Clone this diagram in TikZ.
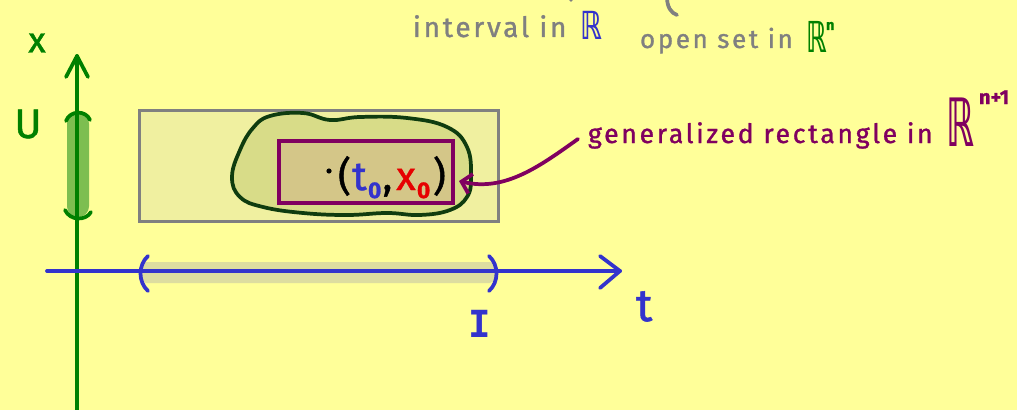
\documentclass[tikz,border=0pt]{standalone}
\usepackage{fontspec}
\setmainfont[FakeBold=1.2]{Fira Sans}
\newfontfamily\spaced[LetterSpace=10,FakeBold=1.2]{Fira Sans}
\newfontfamily\symfont{DejaVu Sans}
\newfontfamily\monofont{DejaVu Sans Mono}
\usetikzlibrary{arrows.meta}
\definecolor{bgyellow}{RGB}{255,255,153}
\definecolor{axgreen}{RGB}{0,128,0}
\definecolor{ugreen}{RGB}{125,190,80}
\definecolor{axblue}{RGB}{51,51,204}
\definecolor{barbeige}{RGB}{221,221,160}
\definecolor{rectfill}{RGB}{240,240,160}
\definecolor{rectgray}{RGB}{128,128,128}
\definecolor{blobgreen}{RGB}{15,60,15}
\definecolor{blobfill}{RGB}{216,220,136}
\definecolor{purp}{RGB}{128,0,96}
\definecolor{purpfill}{RGB}{212,198,136}
\definecolor{txtgray}{RGB}{128,128,128}
\definecolor{redzero}{RGB}{230,0,0}
\tikzset{
  thick line/.style={line width=2.8pt, line cap=round, line join=round},
  lbl/.style={inner sep=0pt, outer sep=0pt},
}
\newcommand{\subz}[1]{\raisebox{-0.2em}{\fontsize{17}{17}\selectfont\bfseries #1}}
\begin{document}
\begin{tikzpicture}[x=0.75pt,y=-0.75pt]
\fill[bgyellow] (0,0) rectangle (1017,410);
\useasboundingbox (0,0) rectangle (1017,410);

% top fragments
\draw[txtgray, thick line] (667,-3) .. controls (667,7) and (671,13) .. (677,15);
\fill[txtgray] (571,0) circle (1.8);

% top labels
\node[lbl, txtgray, anchor=base west, font=\spaced\fontsize{21}{21}\selectfont] (intv) at (413,37) {interval in};
\node[lbl, axblue, anchor=base west, font=\symfont\bfseries\fontsize{29}{29}\selectfont] (intR) at (580,40) {\scalebox{0.7}[1]{ℝ}};
\node[lbl, txtgray, anchor=base west, font=\spaced\fontsize{19.5}{19.5}\selectfont] (opens) at (640,48) {open set in};
\node[lbl, axgreen, anchor=base west, font=\symfont\bfseries\fontsize{32}{32}\selectfont] (openR) at (806,53) {\scalebox{0.6}[1]{ℝ}};
\node[lbl, axgreen, anchor=base west, font=\bfseries\fontsize{11}{11}\selectfont] (openn) at (826,30) {n};

% gray rectangle
\node[draw=rectgray, fill=rectfill, line width=2.6pt, inner sep=0pt, minimum width=269.25pt, minimum height=83.25pt, anchor=north west] (grayrect) at (138,109) {};

% blob (open set)
\draw[blobgreen, fill=blobfill, thick line] plot[smooth cycle, tension=0.7] coordinates {(232,177)(240,150)(253,128)(270,116)(303,113)(330,120)(360,117)(407,118)(447,127)(467,147)(471,177)(467,197)(450,210)(420,215)(387,213)(347,215)(303,213)(263,207)(240,197)};

% purple generalized rectangle
\node[draw=purp, fill=purpfill, line width=2.8pt, inner sep=0pt, minimum width=130.5pt, minimum height=46.5pt, anchor=north west] (genrect) at (277,139) {};

% point
\fill[black] (329,171) circle (2.6);
\node[lbl, anchor=base west, font=\fontsize{30}{30}\selectfont] (pt) at (338,190) {(\kern1pt\textcolor{axblue}{t\kern1pt\subz{0}}\kern1pt,\kern3pt\textcolor{redzero}{x\kern1pt\subz{0}}\kern2pt)};

% purple label
\node[lbl, purp, anchor=base west, font=\spaced\fontsize{20}{20}\selectfont] (glabel) at (588,143) {generalized rectangle in};
\node[lbl, purp, anchor=base west, font=\symfont\bfseries\fontsize{50}{50}\selectfont] (gR) at (946,146) {\scalebox{0.52}[1]{ℝ}};
\node[lbl, purp, anchor=base west, font=\bfseries\fontsize{15}{15}\selectfont] (gn) at (979,104) {n+1};

% purple arrow
\coordinate (arrS) at (578,139);
\coordinate (arrE) at (459,181);
\draw[purp, thick line, -{Straight Barb[length=7pt, width=15pt, line width=2.8pt]}] (arrS) .. controls (540,166) and (505,192) .. (arrE);

% U interval on x axis
\fill[ugreen, rounded corners=8pt] (67,113) rectangle (89,217);
% vertical axis
\coordinate (xbot) at (77,412);
\coordinate (xtop) at (77,56);
\draw[axgreen, thick line] (xbot) -- (xtop);
\draw[axgreen, thick line] (66,77) -- (xtop) -- (88,77);
\draw[axgreen, thick line] (66,121) .. controls (70,110) and (86,110) .. (90,120);
\draw[axgreen, thick line] (65,210) .. controls (70,221) and (86,221) .. (91,212);
\node[lbl, axgreen, font=\fontsize{27}{27}\selectfont] (xlab) at (37,43) {x};
\node[lbl, axgreen, font=\fontsize{31}{31}\selectfont] (ulab) at (28,124) {U};

% interval I on t axis
\fill[barbeige, rounded corners=4pt] (141,262) rectangle (495,283);
\coordinate (tleft) at (47,271);
\coordinate (tright) at (620,271);
\draw[axblue, thick line] (tleft) -- (tright);
\draw[axblue, thick line] (600,256) -- (tright) -- (600,288);
\draw[axblue, thick line] (148,256) .. controls (138,265) and (138,282) .. (148,291);
\draw[axblue, thick line] (489,256) .. controls (499,265) and (499,282) .. (489,291);
\node[lbl, axblue, anchor=base west, font=\fontsize{34}{34}\selectfont] (tlab) at (636,321) {t};
\node[lbl, axblue, font=\monofont\bfseries\fontsize{28}{28}\selectfont] (ilab) at (480,324) {I};
\end{tikzpicture}
\end{document}
